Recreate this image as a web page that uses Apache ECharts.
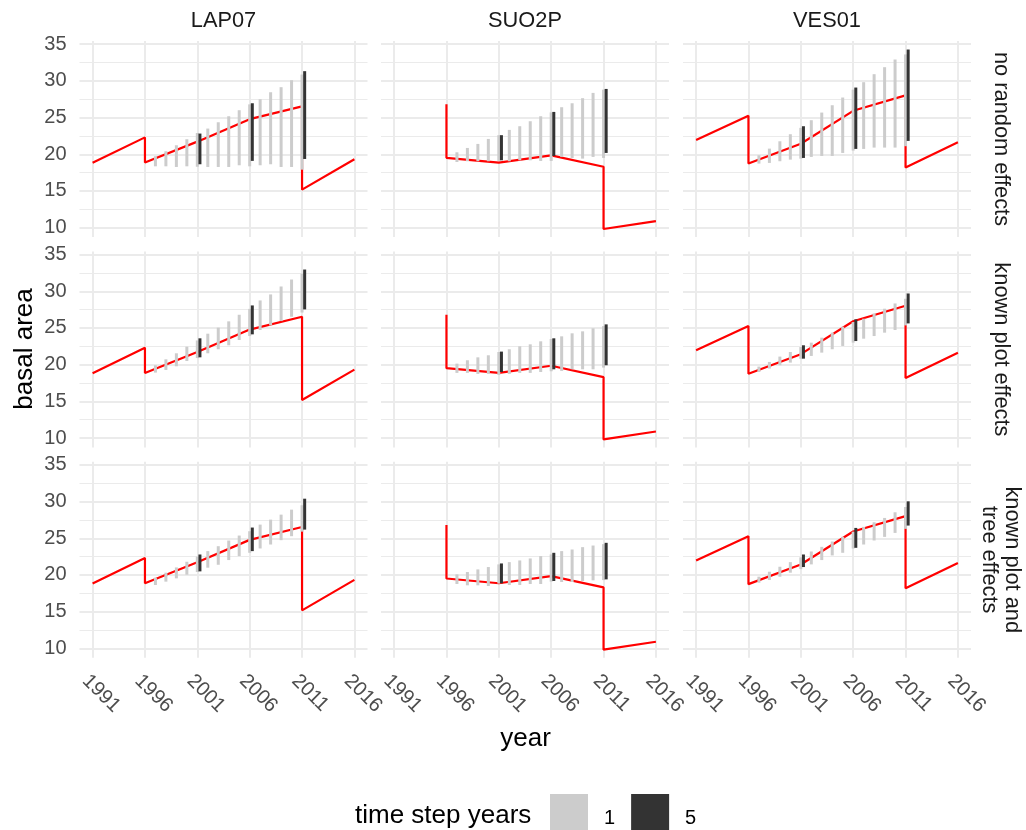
<!DOCTYPE html>
<html>
<head>
<meta charset="utf-8">
<script src="https://cdn.jsdelivr.net/npm/echarts@6/dist/echarts.min.js"></script>
<style>
  html, body { margin: 0; padding: 0; background: #ffffff; }
  #chart { width: 1026px; height: 830px; }
</style>
</head>
<body>
<div id="chart"></div>
<script>
// Facets
const plots = ['LAP07', 'SUO2P', 'VES01'];
const models = ['no random effects', 'known plot effects', 'known plot and\ntree effects'];

// Axis breaks
const yearTicks = [1991, 1996, 2001, 2006, 2011, 2016];
const baTicks = [10, 15, 20, 25, 30, 35];
const baMinorTicks = [12.5, 17.5, 22.5, 27.5, 32.5];

// Prediction years for the two time steps
const stepYears1 = [1997, 1998, 1999, 2000, 2001, 2002, 2003, 2004, 2005, 2006, 2007, 2008, 2009, 2010, 2011];
const stepYears5 = [2001, 2006, 2011];

// Observed basal area (measurement years, with thinnings as vertical drops)
const lap07Years = [1991, 1996, 1996, 2001, 2006, 2011, 2011, 2016];
const lap07BA    = [18.84, 22.30, 18.87, 21.72, 24.78, 26.53, 15.18, 19.33];
const suo2pYears = [1996, 1996, 2001, 2006, 2011, 2011, 2016];
const suo2pBA    = [26.80, 19.52, 18.87, 19.85, 18.30, 9.82, 10.90];
const ves01Years = [1991, 1996, 1996, 2001, 2006, 2011, 2011, 2016];
const ves01BA    = [21.96, 25.26, 18.75, 21.43, 25.92, 28.02, 18.19, 21.63];

// Prediction intervals, one row per model (no random / plot / plot and tree effects)
const lap07Lo1 = [
  [18.36, 18.36, 18.27, 18.36, 18.30, 18.27, 18.27, 18.27, 18.50, 18.36, 18.50, 18.64, 18.27, 18.27, 17.90],
  [18.92, 19.28, 19.78, 20.50, 20.90, 21.55, 22.10, 22.64, 23.36, 23.90, 24.72, 25.35, 25.94, 26.53, 27.10],
  [18.63, 19.09, 19.54, 20.04, 20.40, 20.99, 21.39, 22.03, 22.57, 23.02, 23.61, 24.15, 24.74, 25.28, 25.90]
];
const lap07Hi1 = [
  [19.73, 20.41, 21.23, 22.05, 22.90, 23.50, 24.36, 25.18, 26.00, 26.80, 27.50, 28.45, 29.14, 30.09, 30.86],
  [19.92, 20.73, 21.55, 22.45, 23.30, 24.22, 25.04, 25.90, 26.80, 27.60, 28.75, 29.57, 30.65, 31.60, 32.40],
  [19.63, 20.31, 21.03, 21.80, 22.50, 23.25, 23.92, 24.69, 25.37, 25.96, 26.86, 27.54, 28.22, 28.90, 29.50]
];
const lap07Lo5 = [[18.64, 19.10, 19.36], [21.00, 24.13, 27.53], [20.49, 23.25, 26.18]];
const lap07Hi5 = [[22.82, 26.95, 31.32], [23.59, 28.07, 32.96], [22.79, 26.46, 30.39]];

const suo2pLo1 = [
  [18.95, 19.05, 19.05, 19.05, 19.10, 19.05, 19.18, 19.18, 19.09, 19.09, 19.64, 19.50, 19.41, 19.64, 19.50],
  [18.88, 18.88, 18.74, 18.74, 18.60, 18.74, 18.88, 18.88, 19.00, 19.10, 19.15, 19.37, 19.37, 19.37, 19.60],
  [18.77, 18.59, 18.59, 18.50, 18.82, 18.63, 18.63, 18.77, 18.77, 19.09, 19.04, 19.04, 19.18, 19.27, 19.30]
];
const suo2pHi1 = [
  [20.27, 20.86, 21.41, 22.09, 22.60, 23.32, 23.82, 24.50, 25.18, 25.70, 26.41, 26.95, 27.64, 28.36, 28.80],
  [20.14, 20.60, 21.00, 21.28, 21.73, 22.10, 22.50, 22.77, 23.18, 23.50, 23.86, 24.27, 24.54, 24.95, 25.25],
  [20.08, 20.40, 20.76, 21.08, 21.44, 21.75, 21.98, 22.25, 22.57, 22.80, 23.25, 23.47, 23.79, 24.01, 24.20]
];
const suo2pLo5 = [[19.18, 19.77, 20.18], [19.00, 19.37, 19.92], [18.86, 19.18, 19.40]];
const suo2pHi5 = [[22.60, 25.77, 28.90], [21.78, 23.59, 25.49], [21.57, 23.02, 24.38]];

const ves01Lo1 = [
  [18.73, 18.82, 19.05, 19.27, 19.40, 19.64, 19.77, 19.77, 20.18, 20.50, 20.73, 20.91, 20.91, 20.91, 21.10],
  [19.01, 19.47, 19.92, 20.28, 20.80, 21.19, 21.64, 22.10, 22.55, 23.00, 23.54, 23.90, 24.36, 24.72, 25.35],
  [18.95, 19.31, 19.76, 20.31, 20.80, 21.44, 22.03, 22.66, 23.02, 23.60, 24.15, 24.70, 25.19, 25.73, 26.28]
];
const ves01Hi1 = [
  [19.86, 20.77, 21.77, 22.73, 23.60, 24.64, 25.68, 26.68, 27.73, 28.80, 29.82, 30.91, 31.86, 32.91, 33.60],
  [19.74, 20.37, 21.10, 21.73, 22.40, 23.00, 23.68, 24.36, 25.17, 25.80, 26.26, 26.98, 27.62, 28.34, 28.98],
  [19.77, 20.44, 21.12, 21.75, 22.40, 23.20, 23.83, 24.56, 25.19, 25.90, 26.55, 27.18, 27.77, 28.54, 29.26]
];
const ves01Lo5 = [[19.50, 20.73, 21.82], [20.82, 23.22, 25.62], [21.08, 23.70, 26.73]];
const ves01Hi5 = [[23.82, 29.09, 34.27], [22.64, 26.17, 29.70], [22.79, 26.41, 30.03]];

// Legend
const stepNames = ['1', '5'];
const stepColors = ['#CCCCCC', '#333333'];

// ---------------------------------------------------------------
const observed = [
  { years: lap07Years, ba: lap07BA },
  { years: suo2pYears, ba: suo2pBA },
  { years: ves01Years, ba: ves01BA }
];
const intervals = [
  { lo1: lap07Lo1, hi1: lap07Hi1, lo5: lap07Lo5, hi5: lap07Hi5 },
  { lo1: suo2pLo1, hi1: suo2pHi1, lo5: suo2pLo5, hi5: suo2pHi5 },
  { lo1: ves01Lo1, hi1: ves01Hi1, lo5: ves01Lo5, hi5: ves01Hi5 }
];

const FONT = '"Liberation Sans", Arial, Helvetica, sans-serif';
const colLeft = [79.5, 381, 683];
const rowTop = [41, 251.4, 461.7];
const panelW = 288;
const panelH = 196;
const xMin = 1989.75, xMax = 2017.25;
const yMin = 8.73, yMax = 35.43;
const dodge5 = 0.25;   // horizontal shift of the 5-year ranges
const gridColor = '#EBEBEB';
const titleSize = 26;
const stripSize = 21.8;
const tickSize = 20;

const grids = [], xAxes = [], yAxes = [], series = [];

function rangeRenderer(offset) {
  return function (params, api) {
    const x = api.value(0) + offset;
    const p1 = api.coord([x, api.value(1)]);
    const p2 = api.coord([x, api.value(2)]);
    return {
      type: 'line',
      shape: { x1: p1[0], y1: p1[1], x2: p2[0], y2: p2[1] },
      style: { stroke: api.visual('color'), lineWidth: 3, lineCap: 'butt' }
    };
  };
}

for (let r = 0; r < 3; r++) {
  for (let c = 0; c < 3; c++) {
    const g = r * 3 + c;
    grids.push({
      left: colLeft[c], top: rowTop[r], width: panelW, height: panelH,
      containLabel: false, outerBoundsMode: 'none'
    });
    xAxes.push({
      type: 'value', gridIndex: g, min: xMin, max: xMax,
      axisLine: { show: false },
      axisTick: { show: false, customValues: yearTicks },
      axisLabel: {
        show: r === 2, customValues: yearTicks, rotate: -45, margin: 13,
        verticalAlign: 'top', formatter: v => String(v),
        color: '#4D4D4D', fontSize: tickSize, fontFamily: FONT
      },
      splitLine: { show: true, lineStyle: { color: gridColor, width: 2 } }
    });
    yAxes.push({
      type: 'value', gridIndex: g, min: yMin, max: yMax,
      axisLine: { show: false },
      axisTick: { show: false, customValues: baTicks },
      axisLabel: {
        show: c === 0, customValues: baTicks, margin: 13,
        color: '#4D4D4D', fontSize: tickSize, fontFamily: FONT
      },
      splitLine: { show: true, lineStyle: { color: gridColor, width: 2 } }
    });
    yAxes.push({
      type: 'value', gridIndex: g, min: yMin, max: yMax, position: 'left',
      axisLine: { show: false },
      axisTick: { show: false, customValues: baMinorTicks },
      axisLabel: { show: false, customValues: baMinorTicks },
      splitLine: { show: true, lineStyle: { color: gridColor, width: 1 } }
    });

    const obs = observed[c];
    series.push({
      type: 'line', xAxisIndex: g, yAxisIndex: 2 * g,
      data: obs.years.map((y, k) => [y, obs.ba[k]]),
      showSymbol: false, symbol: 'none', z: 2, silent: true,
      lineStyle: { color: '#FF0000', width: 2.2 },
      itemStyle: { color: '#FF0000' }
    });
    const iv = intervals[c];
    series.push({
      type: 'custom', name: stepNames[0], xAxisIndex: g, yAxisIndex: 2 * g, z: 3,
      itemStyle: { color: stepColors[0] },
      encode: { x: 0, y: [1, 2] },
      data: stepYears1.map((y, k) => [y, iv.lo1[r][k], iv.hi1[r][k]]),
      renderItem: rangeRenderer(0)
    });
    series.push({
      type: 'custom', name: stepNames[1], xAxisIndex: g, yAxisIndex: 2 * g, z: 4,
      itemStyle: { color: stepColors[1] },
      encode: { x: 0, y: [1, 2] },
      data: stepYears5.map((y, k) => [y, iv.lo5[r][k], iv.hi5[r][k]]),
      renderItem: rangeRenderer(dodge5)
    });
  }
}

function label(text, x, y, size, fill, rotation, align) {
  return {
    type: 'text', x: x, y: y, rotation: rotation || 0,
    style: {
      text: text, fontSize: size, lineHeight: Math.round(size * 1.05), fontFamily: FONT, fill: fill,
      align: align || 'center', verticalAlign: 'middle',
      textAlign: align || 'center', textVerticalAlign: 'middle'
    }
  };
}

const texts = [];
plots.forEach((p, c) => texts.push(label(p, colLeft[c] + panelW / 2, 20.5, stripSize, '#1A1A1A')));
models.forEach((m, r) => texts.push(label(m, 1001, rowTop[r] + panelH / 2, stripSize, '#1A1A1A', -Math.PI / 2)));
texts.push(label('basal area', 25, 349, titleSize, '#000000', Math.PI / 2));
texts.push(label('year', 525.5, 739, titleSize, '#000000'));
texts.push(label('time step years', 355, 816, titleSize, '#000000', 0, 'left'));

const chart = echarts.init(document.getElementById('chart'), null, { renderer: 'canvas' });
chart.setOption({
  animation: false,
  backgroundColor: '#ffffff',
  textStyle: { fontFamily: FONT },
  grid: grids,
  xAxis: xAxes,
  yAxis: yAxes,
  legend: {
    data: stepNames, left: 550, top: 794, orient: 'horizontal', padding: 0,
    icon: 'rect', itemWidth: 38, itemHeight: 49, itemGap: 16,
    selectedMode: false,
    textStyle: { fontSize: tickSize, color: '#000000', fontFamily: FONT, padding: [0, 0, 0, 11] }
  },
  graphic: texts,
  series: series
});
</script>
</body>
</html>
